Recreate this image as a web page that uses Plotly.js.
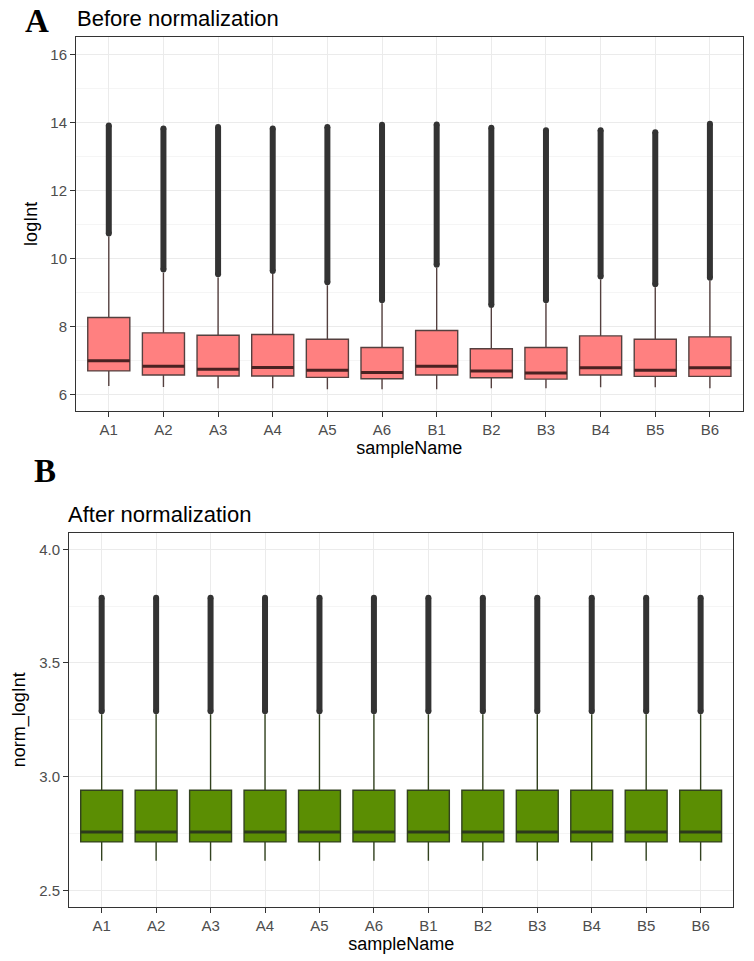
<!DOCTYPE html>
<html>
<head>
<meta charset="utf-8">
<script src="https://cdn.plot.ly/plotly-3.0.1.min.js"></script>
<style>html,body{margin:0;padding:0;background:#fff}#chart{width:754px;height:961px}</style>
</head>
<body>
<div id="chart"></div>
<script>
// ---- data ----
const samples = ['A1','A2','A3','A4','A5','A6','B1','B2','B3','B4','B5','B6'];

// Panel A: before normalization (logInt)
const beforeLower  = [6.25, 6.22, 6.18, 6.18, 6.15, 6.15, 6.15, 6.18, 6.18, 6.21, 6.21, 6.18];
const beforeQ1     = [6.69, 6.57, 6.54, 6.54, 6.50, 6.46, 6.57, 6.49, 6.45, 6.57, 6.53, 6.53];
const beforeMedian = [6.99, 6.83, 6.74, 6.79, 6.71, 6.64, 6.83, 6.69, 6.63, 6.78, 6.71, 6.78];
const beforeQ3     = [8.26, 7.81, 7.74, 7.76, 7.62, 7.38, 7.88, 7.34, 7.38, 7.72, 7.62, 7.69];
const beforeUpper  = [10.64, 9.58, 9.44, 9.54, 9.21, 8.68, 9.72, 8.54, 8.68, 9.38, 9.15, 9.34];
const beforeOutMin = [10.73, 9.67, 9.53, 9.63, 9.30, 8.77, 9.81, 8.63, 8.77, 9.47, 9.24, 9.43];
const beforeOutMax = [13.91, 13.82, 13.86, 13.82, 13.86, 13.93, 13.94, 13.84, 13.77, 13.77, 13.71, 13.96];

// Panel B: after normalization (norm_logInt)
const afterLower  = [2.63, 2.63, 2.63, 2.63, 2.63, 2.63, 2.63, 2.63, 2.63, 2.63, 2.63, 2.63];
const afterQ1     = [2.713, 2.713, 2.713, 2.713, 2.713, 2.713, 2.713, 2.713, 2.713, 2.713, 2.713, 2.713];
const afterMedian = [2.757, 2.757, 2.757, 2.757, 2.757, 2.757, 2.757, 2.757, 2.757, 2.757, 2.757, 2.757];
const afterQ3     = [2.94, 2.94, 2.94, 2.94, 2.94, 2.94, 2.94, 2.94, 2.94, 2.94, 2.94, 2.94];
const afterUpper  = [3.275, 3.275, 3.275, 3.275, 3.275, 3.275, 3.275, 3.275, 3.275, 3.275, 3.275, 3.275];
const afterOutMin = [3.288, 3.288, 3.288, 3.288, 3.288, 3.288, 3.288, 3.288, 3.288, 3.288, 3.288, 3.288];
const afterOutMax = [3.787, 3.787, 3.787, 3.787, 3.787, 3.787, 3.787, 3.787, 3.787, 3.787, 3.787, 3.787];

const beforeTicks = [6, 8, 10, 12, 14, 16];
const afterTicks = [2.5, 3.0, 3.5, 4.0];

// ---- helpers ----
const W = 754, H = 961;
const px = v => v / W;
const py = v => 1 - v / H;

function boxTrace(lo, q1, med, q3, up, fill, line, xa, ya) {
  return {
    type: 'box', x: samples, lowerfence: lo, q1: q1, median: med, q3: q3, upperfence: up,
    boxpoints: false, width: 0.77, whiskerwidth: 0,
    fillcolor: fill, line: {color: line, width: 1.4},
    xaxis: xa, yaxis: ya, hoverinfo: 'skip', showlegend: false
  };
}
function medianTrace(med, color, xa, ya) {
  return {
    type: 'box', x: samples, lowerfence: med, q1: med, median: med, q3: med, upperfence: med,
    boxpoints: false, width: 0.77, whiskerwidth: 0,
    fillcolor: 'rgba(0,0,0,0)', line: {color: color, width: 3},
    xaxis: xa, yaxis: ya, hoverinfo: 'skip', showlegend: false
  };
}
function outlierTrace(lo, hi, xa, ya) {
  const xs = [], ys = [];
  samples.forEach((s, i) => { xs.push(s, s, null); ys.push(lo[i], hi[i], null); });
  return {
    type: 'scatter', mode: 'lines+markers', x: xs, y: ys,
    line: {color: '#333333', width: 6}, marker: {color: '#333333', size: 6},
    connectgaps: false, xaxis: xa, yaxis: ya, hoverinfo: 'skip', showlegend: false
  };
}

const data = [
  outlierTrace(beforeOutMin, beforeOutMax, 'x', 'y'),
  boxTrace(beforeLower, beforeQ1, beforeMedian, beforeQ3, beforeUpper, '#FF8080', '#54403f', 'x', 'y'),
  medianTrace(beforeMedian, '#4a2222', 'x', 'y'),
  outlierTrace(afterOutMin, afterOutMax, 'x2', 'y2'),
  boxTrace(afterLower, afterQ1, afterMedian, afterQ3, afterUpper, '#5B8E03', '#32421f', 'x2', 'y2'),
  medianTrace(afterMedian, '#2c3a1c', 'x2', 'y2')
];

const tickFont = {family: 'Liberation Sans, Arial, sans-serif', size: 15, color: '#4D4D4D'};
const titleFont = {family: 'Liberation Sans, Arial, sans-serif', size: 18, color: '#000000'};

function xAxis(domain, anchor) {
  return {
    domain: domain, anchor: anchor, type: 'category', categoryorder: 'array', categoryarray: samples,
    range: [-0.6, 11.6], showgrid: true, gridcolor: '#EBEBEB', gridwidth: 1,
    showline: true, mirror: true, linecolor: '#333333', linewidth: 1,
    ticks: 'outside', ticklen: 5, tickcolor: '#333333', tickwidth: 1,
    tickfont: tickFont, zeroline: false, automargin: false,
    title: {text: 'sampleName', font: titleFont, standoff: 1}
  };
}
function yAxis(domain, anchor, range, tickvals, minorDtick, fmt, title, standoff) {
  return {
    domain: domain, anchor: anchor, range: range, tickmode: 'array', tickvals: tickvals,
    ticktext: tickvals.map(v => fmt ? v.toFixed(1) : String(v)),
    showgrid: true, gridcolor: '#EBEBEB', gridwidth: 1,
    minor: {dtick: minorDtick, tick0: 0, showgrid: true, gridcolor: '#EFEFEF', gridwidth: 0.6, ticks: ''},
    showline: true, mirror: true, linecolor: '#333333', linewidth: 1,
    ticks: 'outside', ticklen: 5, tickcolor: '#333333', tickwidth: 1,
    tickfont: tickFont, zeroline: false, automargin: false,
    title: {text: title, font: titleFont, standoff: standoff}
  };
}

const layout = {
  width: W, height: H, margin: {l: 0, r: 0, t: 0, b: 0},
  paper_bgcolor: '#ffffff', plot_bgcolor: '#ffffff', showlegend: false,
  xaxis: xAxis([px(76), px(742.7)], 'y'),
  yaxis: yAxis([py(410.7), py(37)], 'x', [5.52, 16.51], beforeTicks, 1, false, 'logInt', 8),
  xaxis2: xAxis([px(69), px(733.3)], 'y2'),
  yaxis2: yAxis([py(906.7), py(532.7)], 'x2', [2.428, 4.073], afterTicks, 0.25, true, 'norm_logInt', 8),
  annotations: [
    {text: '<b>A</b>', xref: 'paper', yref: 'paper', x: px(37), y: py(21), xanchor: 'center', yanchor: 'middle',
     showarrow: false, font: {family: 'Liberation Serif, Times New Roman, serif', size: 33, color: '#000'}},
    {text: 'Before normalization', xref: 'paper', yref: 'paper', x: px(75), y: py(18), xanchor: 'left', yanchor: 'middle',
     showarrow: false, font: {family: 'Liberation Sans, Arial, sans-serif', size: 22, color: '#000'}},
    {text: '<b>B</b>', xref: 'paper', yref: 'paper', x: px(44.5), y: py(471), xanchor: 'center', yanchor: 'middle',
     showarrow: false, font: {family: 'Liberation Serif, Times New Roman, serif', size: 33, color: '#000'}},
    {text: 'After normalization', xref: 'paper', yref: 'paper', x: px(66), y: py(514.7), xanchor: 'left', yanchor: 'middle',
     showarrow: false, font: {family: 'Liberation Sans, Arial, sans-serif', size: 22, color: '#000'}}
  ]
};

Plotly.newPlot('chart', data, layout, {staticPlot: true, displayModeBar: false});
</script>
</body>
</html>
